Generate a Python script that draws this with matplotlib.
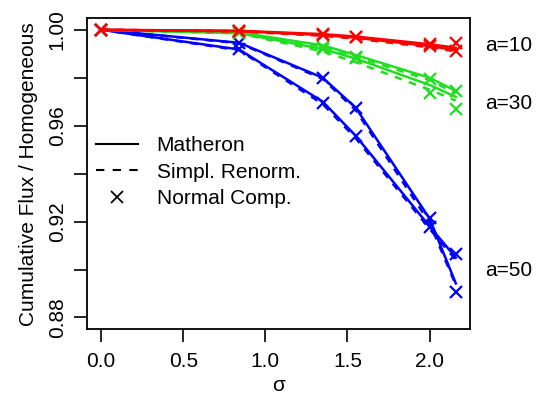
import matplotlib
matplotlib.use("Agg")
import matplotlib.pyplot as plt
from matplotlib.lines import Line2D

plt.rcParams['font.family'] = ['Liberation Sans', 'DejaVu Sans']

# sigma values where the flux was computed
sigma = [0.0, 0.84, 1.35, 1.55, 2.0, 2.16]

# each a has two groups (upper, lower); per group: Matheron, Simpl. Renorm., Normal Comp.
red_mat = [[1.0, 0.9996, 0.9982, 0.9972, 0.9940, 0.9925],
           [1.0, 0.9994, 0.9978, 0.9967, 0.9932, 0.9915]]
red_ren = [[1.0, 0.9995, 0.9979, 0.9968, 0.9935, 0.9918],
           [1.0, 0.9993, 0.9975, 0.9963, 0.9927, 0.9910]]
red_nc = [[1.0, 0.9996, 0.9981, 0.9972, 0.9940, 0.9946],
          [1.0, 0.9995, 0.9979, 0.9970, 0.9934, 0.9911]]

green_mat = [[1.0, 0.9989, 0.9935, 0.9895, 0.9800, 0.9745],
             [1.0, 0.9986, 0.9920, 0.9880, 0.9770, 0.9720]]
green_ren = [[1.0, 0.9988, 0.9930, 0.9888, 0.9790, 0.9735],
             [1.0, 0.9985, 0.9910, 0.9865, 0.9750, 0.9705]]
green_nc = [[1.0, 0.9990, 0.9930, 0.9888, 0.9793, 0.9745],
            [1.0, 0.9986, 0.9920, 0.9883, 0.9738, 0.9668]]

blue_mat = [[1.0, 0.9946, 0.9800, 0.9675, 0.9213, 0.8942],
            [1.0, 0.9918, 0.9700, 0.9558, 0.9180, 0.9050]]
blue_ren = [[1.0, 0.9944, 0.9795, 0.9665, 0.9195, 0.8935],
            [1.0, 0.9915, 0.9690, 0.9548, 0.9170, 0.9040]]
blue_nc = [[1.0, 0.9946, 0.9800, 0.9675, 0.9213, 0.8905],
           [1.0, 0.9918, 0.9696, 0.9555, 0.9176, 0.9065]]

series = [('#0000ff', blue_mat, blue_ren, blue_nc),
          ('#22dd22', green_mat, green_ren, green_nc),
          ('#ff0000', red_mat, red_ren, red_nc)]

a_labels = ['a=10', 'a=30', 'a=50']
a_label_y = [0.9935, 0.9692, 0.8996]

fs = 15

fig = plt.figure(figsize=(5.43, 3.97), dpi=100)
ax = fig.add_axes([0.1602, 0.1713, 0.7054, 0.7826])

for col, mat, ren, nc in series:
    for g in range(2):
        ax.plot(sigma, mat[g], color=col, lw=1.8, ls='-')
        ax.plot(sigma, ren[g], color=col, lw=1.8, dashes=(3, 3))
        ax.plot(sigma, nc[g], color=col, ls='none', marker='x', ms=9, mew=1.6)

ax.set_xlim(-0.0864, 2.2464)
ax.set_ylim(0.8752, 1.0048)

ax.set_xticks([0.0, 0.5, 1.0, 1.5, 2.0])
ax.set_xticklabels(['0.0', '0.5', '1.0', '1.5', '2.0'])
yt = [0.88, 0.90, 0.92, 0.94, 0.96, 0.98, 1.00]
ax.set_yticks(yt)
ax.set_yticklabels(['0.88', '', '0.92', '', '0.96', '', '1.00'], rotation=90, va='center')

ax.tick_params(axis='both', direction='out', length=9.5, width=1.2, labelsize=fs)
ax.tick_params(axis='x', pad=7)
ax.tick_params(axis='y', pad=5)
for s in ax.spines.values():
    s.set_linewidth(1.3)

ax.set_xlabel('σ', fontsize=fs, labelpad=4)
ax.set_ylabel('Cumulative Flux / Homogeneous', fontsize=fs, labelpad=7)

for lab, yv in zip(a_labels, a_label_y):
    ax.text(1.04, yv, lab, transform=ax.get_yaxis_transform(), fontsize=fs,
            va='center', ha='left', clip_on=False)

handles = [Line2D([], [], color='black', lw=1.5, ls='-'),
           Line2D([], [], color='black', lw=1.5, dashes=(4, 4)),
           Line2D([], [], color='black', ls='none', marker='x', ms=8, mew=1.3)]
ax.legend(handles, ['Matheron', 'Simpl. Renorm.', 'Normal Comp.'], loc='upper left',
          bbox_to_anchor=(-0.025, 0.68), frameon=False, fontsize=fs,
          handlelength=2.0, handletextpad=0.9, labelspacing=0.35)

fig.savefig('out.png', dpi=100)
